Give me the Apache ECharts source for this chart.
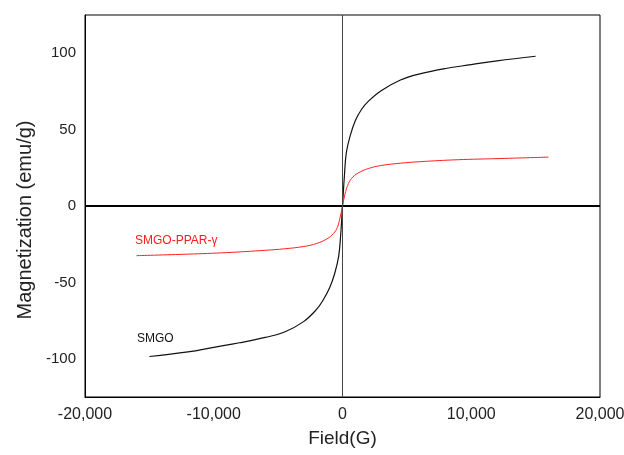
<!DOCTYPE html>
<html>
<head>
<meta charset="utf-8">
<script src="https://cdn.jsdelivr.net/npm/echarts@6/dist/echarts.min.js"></script>
<style>html,body{margin:0;padding:0;background:#fff}#c{width:624px;height:455px}</style>
</head>
<body>
<div id="c"></div>
<script>
var xTicks = [-20000, -10000, 0, 10000, 20000];
var yTicks = [-100, -50, 0, 50, 100];

var smgoField = [-15000,-12000,-10000,-8000,-6000,-4500,-3000,-2000,-1500,-1000,-600,-300,-150,0,150,300,600,1000,1500,2000,3000,4500,6000,8000,10000,12000,15000];
var smgoMag   = [-98.5,-95.5,-92.5,-89.5,-86,-82.5,-75.5,-67.5,-61.5,-53.5,-44,-33,-20,0,20,35,46,56,63.5,68.5,75.5,82.5,86.5,90,92.5,95,98];

var pparField = [-16000,-12000,-9000,-6000,-4500,-3000,-2000,-1200,-700,-400,-200,0,200,400,700,1200,2000,3000,4500,6000,9000,12000,16000];
var pparMag   = [-32.5,-31.5,-30.5,-29,-28,-26.5,-24.5,-21.5,-18,-14,-8,0,8,13.5,18,21.5,24.5,26.5,28,29,30.3,31,32];

function pairs(xs, ys){ return xs.map(function(x,i){ return [x, ys[i]]; }); }

var chart = echarts.init(document.getElementById('c'));
var font = 'Liberation Sans, Arial, sans-serif';
chart.setOption({
  animation: false,
  backgroundColor: '#fff',
  grid: {left: 85, right: 24, top: 15, bottom: 58, outerBoundsMode: 'none', containLabel: false,
    show: true, borderColor: '#000', borderWidth: 1, backgroundColor: 'transparent'},
  xAxis: {
    type: 'value', min: -20000, max: 20000, interval: 10000,
    name: 'Field(G)', nameLocation: 'middle', nameGap: 32,
    nameTextStyle: {fontFamily: font, fontSize: 19, color: '#222'},
    axisLine: {show: true, onZero: false, lineStyle: {color: '#000', width: 1}},
    axisTick: {show: false},
    splitLine: {show: false},
    axisLabel: {fontFamily: font, fontSize: 16, color: '#222', margin: 10, hideOverlap: false,
      formatter: function(v){ return xTicks.indexOf(v) >= 0 ? v.toLocaleString('en-US') : ''; }}
  },
  yAxis: {
    type: 'value', min: -125, max: 125, interval: 25,
    name: 'Magnetization (emu/g)', nameLocation: 'middle', nameGap: 49,
    nameTextStyle: {fontFamily: font, fontSize: 20, color: '#222', padding: [0, 28, 0, 0]},
    axisLine: {show: true, onZero: false, lineStyle: {color: '#000', width: 1}},
    axisTick: {show: false},
    splitLine: {show: false},
    axisLabel: {fontFamily: font, fontSize: 15, color: '#222', margin: 9,
      formatter: function(v){ return yTicks.indexOf(v) >= 0 ? String(v) : ''; }}
  },
  series: [
    {
      type: 'line', name: 'SMGO', data: pairs(smgoField, smgoMag), smooth: 0.4,
      showSymbol: false, lineStyle: {color: '#111', width: 1.2}, z: 3,
      markLine: {
        silent: true, symbol: 'none', label: {show: false},
        data: [
          {yAxis: 0, lineStyle: {color: '#000', width: 2, type: 'solid'}},
          {xAxis: 0, lineStyle: {color: '#444', width: 1, type: 'solid'}}
        ]
      }
    },
    {
      type: 'line', name: 'SMGO-PPAR-γ', data: pairs(pparField, pparMag), smooth: 0.4,
      showSymbol: false, lineStyle: {color: '#ff2020', width: 1}, z: 4
    }
  ],
  graphic: [
    {type: 'text', left: 135, top: 235, style: {text: 'SMGO-PPAR-γ', fill: '#ff1a1a', font: '12px ' + font}},
    {type: 'text', left: 137, top: 333, style: {text: 'SMGO', fill: '#111', font: '12px ' + font}}
  ]
});
</script>
</body>
</html>
